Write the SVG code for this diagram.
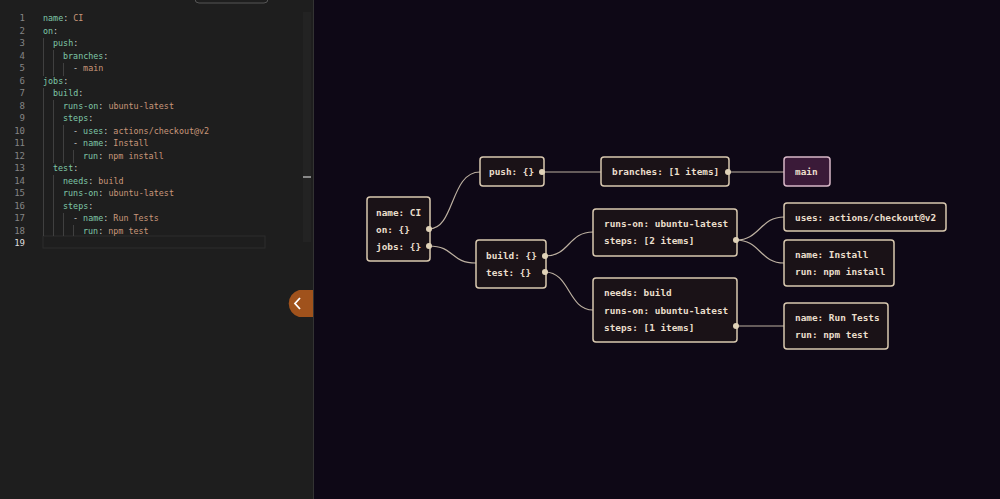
<svg xmlns="http://www.w3.org/2000/svg" width="1000" height="499" viewBox="0 0 1000 499">
<style>
.ln{font:9px "DejaVu Sans Mono",monospace;fill:#858585;text-anchor:end}
.cd{font:8.4px "DejaVu Sans Mono",monospace;fill:#7ec7a8}
.v{fill:#c9977a}
.p{fill:#cccccc}
.g{stroke:#404040;stroke-width:1}
.n{fill:#1a1217;stroke:#d9c9b0;stroke-width:1.5}
.t{font:bold 9.4px "DejaVu Sans Mono",monospace;fill:#eadfcc}
.e{fill:none;stroke:#bcb0a0;stroke-width:1.2}
.d{fill:#e0d2b8}
</style>
<rect width="1000" height="499" fill="#0e0816"/>
<rect width="313" height="499" fill="#1e1e1e"/>
<rect x="313" y="0" width="1" height="499" fill="#333"/>
<rect x="195" y="-6" width="73" height="9" rx="4" fill="none" stroke="#555"/>
<rect x="43" y="236" width="222" height="12" fill="none" stroke="#2c2c2c"/>
<rect x="303" y="12" width="8" height="230" fill="#232323"/>
<rect x="303" y="176" width="8" height="2" fill="#888"/>
<g class="ln">
<text x="25" y="21">1</text><text x="25" y="33.5">2</text><text x="25" y="46">3</text><text x="25" y="58.5">4</text><text x="25" y="71">5</text><text x="25" y="83.5">6</text><text x="25" y="96">7</text><text x="25" y="108.5">8</text><text x="25" y="121">9</text><text x="25" y="133.5">10</text><text x="25" y="146">11</text><text x="25" y="158.5">12</text><text x="25" y="171">13</text><text x="25" y="183.5">14</text><text x="25" y="196">15</text><text x="25" y="208.5">16</text><text x="25" y="221">17</text><text x="25" y="233.5">18</text><text x="25" y="246" fill="#ddd">19</text>
</g>
<g class="g">
<line x1="43.5" y1="38" x2="43.5" y2="76"/><line x1="53.5" y1="50" x2="53.5" y2="76"/><line x1="63.5" y1="63" x2="63.5" y2="76"/>
<line x1="43.5" y1="88" x2="43.5" y2="236"/><line x1="53.5" y1="100" x2="53.5" y2="163"/><line x1="63.5" y1="125" x2="63.5" y2="163"/><line x1="73.5" y1="150" x2="73.5" y2="163"/>
<line x1="53.5" y1="175" x2="53.5" y2="236"/><line x1="63.5" y1="213" x2="63.5" y2="236"/><line x1="73.5" y1="225" x2="73.5" y2="236"/>
</g>
<g class="cd">
<text x="43" y="21">name<tspan class="p">: </tspan><tspan class="v">CI</tspan></text>
<text x="43" y="33.5">on<tspan class="p">:</tspan></text>
<text x="53" y="46">push<tspan class="p">:</tspan></text>
<text x="63" y="58.5">branches<tspan class="p">:</tspan></text>
<text x="73" y="71"><tspan class="p">- </tspan><tspan class="v">main</tspan></text>
<text x="43" y="83.5">jobs<tspan class="p">:</tspan></text>
<text x="53" y="96">build<tspan class="p">:</tspan></text>
<text x="63" y="108.5">runs-on<tspan class="p">: </tspan><tspan class="v">ubuntu-latest</tspan></text>
<text x="63" y="121">steps<tspan class="p">:</tspan></text>
<text x="73" y="133.5"><tspan class="p">- </tspan>uses<tspan class="p">: </tspan><tspan class="v">actions/checkout@v2</tspan></text>
<text x="73" y="146"><tspan class="p">- </tspan>name<tspan class="p">: </tspan><tspan class="v">Install</tspan></text>
<text x="83" y="158.5">run<tspan class="p">: </tspan><tspan class="v">npm install</tspan></text>
<text x="53" y="171">test<tspan class="p">:</tspan></text>
<text x="63" y="183.5">needs<tspan class="p">: </tspan><tspan class="v">build</tspan></text>
<text x="63" y="196">runs-on<tspan class="p">: </tspan><tspan class="v">ubuntu-latest</tspan></text>
<text x="63" y="208.5">steps<tspan class="p">:</tspan></text>
<text x="73" y="221"><tspan class="p">- </tspan>name<tspan class="p">: </tspan><tspan class="v">Run Tests</tspan></text>
<text x="83" y="233.5">run<tspan class="p">: </tspan><tspan class="v">npm test</tspan></text>
</g>
<g id="toggle">
<path d="M313 290 H299 A14 14 0 0 0 299 317 H313 Z" fill="#a0521c"/>
<path d="M300 298 L295 303.5 L300 309" fill="none" stroke="#fff" stroke-width="1.8"/>
</g>
<g id="connectors">
<path class="e" d="M429 229 C455 229 450 172 480 172"/>
<path class="e" d="M429 246 C455 246 450 263 476 263"/>
<path class="e" d="M542 172 H601"/>
<path class="e" d="M728 172 H784"/>
<path class="e" d="M545 256 C570 256 568 232 593 232"/>
<path class="e" d="M545 272 C570 272 568 310 593 310"/>
<path class="e" d="M736 240 C760 240 760 217 784 217"/>
<path class="e" d="M736 240 C760 240 760 263 784 263"/>
<path class="e" d="M736 326 H784"/>
</g>
<g id="root"><rect class="n" x="367" y="197" width="63" height="64" rx="3"/><text class="t" x="376" y="216">name: CI</text><text class="t" x="376" y="233">on: {}</text><text class="t" x="376" y="250">jobs: {}</text><circle class="d" cx="429" cy="229" r="3"/><circle class="d" cx="429" cy="246" r="3"/></g>
<g id="push"><rect class="n" x="480" y="157" width="64" height="29" rx="3"/><text class="t" x="489" y="175">push: {}</text><circle class="d" cx="542" cy="172" r="3"/></g>
<g id="branches"><rect class="n" x="601" y="157" width="128" height="29" rx="3"/><text class="t" x="612" y="175">branches: [1 items]</text><circle class="d" cx="728" cy="172" r="3"/></g>
<g id="main"><rect x="784" y="157" width="46" height="29" rx="3" fill="#3a1a38" stroke="#d8b8c8" stroke-width="1.5"/><text class="t" x="795" y="175">main</text></g>
<g id="jobs"><rect class="n" x="476" y="240" width="70" height="48" rx="3"/><text class="t" x="486" y="259">build: {}</text><text class="t" x="486" y="276">test: {}</text><circle class="d" cx="545" cy="256" r="3"/><circle class="d" cx="545" cy="272" r="3"/></g>
<g id="build"><rect class="n" x="593" y="209" width="144" height="47" rx="3"/><text class="t" x="604" y="227">runs-on: ubuntu-latest</text><text class="t" x="604" y="244">steps: [2 items]</text><circle class="d" cx="736" cy="240" r="3"/></g>
<g id="test"><rect class="n" x="593" y="278" width="144" height="64" rx="3"/><text class="t" x="604" y="296">needs: build</text><text class="t" x="604" y="314">runs-on: ubuntu-latest</text><text class="t" x="604" y="331">steps: [1 items]</text><circle class="d" cx="736" cy="326" r="3"/></g>
<g id="uses"><rect class="n" x="784" y="203" width="162" height="28" rx="3"/><text class="t" x="795" y="221">uses: actions/checkout@v2</text></g>
<g id="install"><rect class="n" x="784" y="240" width="110" height="46" rx="3"/><text class="t" x="795" y="258">name: Install</text><text class="t" x="795" y="275">run: npm install</text></g>
<g id="runtests"><rect class="n" x="784" y="303" width="104" height="46" rx="3"/><text class="t" x="795" y="321">name: Run Tests</text><text class="t" x="795" y="338">run: npm test</text></g>
</svg>
